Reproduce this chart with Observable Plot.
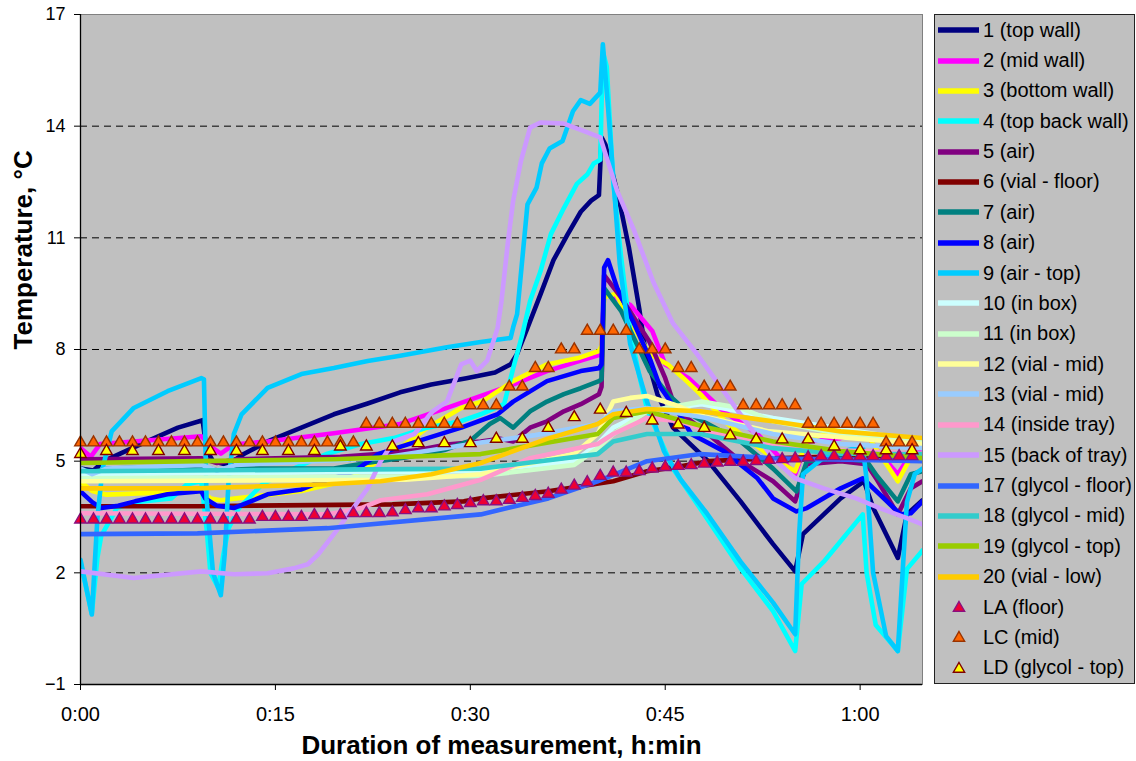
<!DOCTYPE html>
<html>
<head>
<meta charset="utf-8">
<script src="https://cdn.jsdelivr.net/npm/d3@7"></script>
<script src="https://cdn.jsdelivr.net/npm/@observablehq/plot@0.6"></script>
<style>
  body { margin: 0; background: #fff; font-family: "Liberation Sans", Arial, sans-serif; }
  #wrap { position: relative; width: 1136px; height: 761px; overflow: hidden; }
  #chart { position: absolute; left: 0; top: 0; }
  #legend { position: absolute; left: 934px; top: 14px; width: 199px; height: 668px;
            background: #c0c0c0; border: 1px solid #222; box-sizing: content-box; }
  .row { height: 30.36px; display: flex; align-items: center; font-size: 20px; color: #000; white-space: nowrap; }
  .sw { width: 41px; height: 16px; margin-left: 3px; margin-right: 4px; flex: none; }
</style>
</head>
<body>
<div id="wrap">
  <div id="chart"></div>
  <div id="legend"></div>
</div>
<script>
// ---------- data (minutes, °C) ----------
const xTicks = [0, 15, 30, 45, 60];
const yTicks = [-1, 2, 5, 8, 11, 14, 17];
const gridValues = [2, 5, 8, 11, 14];
const xTitle = "Duration of measurement, h:min";
const yTitle = "Temperature, °C";

const s1 = [[0,4.8],[1.0,4.75],[1.8,5.0],[4.9,5.5],[7.5,5.9],[9.4,6.1],[9.7,5.3],[10.2,5.0],[11.3,4.9],[12.6,5.2],[14.4,5.53],[17,5.9],[19.5,6.26],[22.1,6.55],[24.6,6.85],[27,7.06],[29.7,7.23],[31.9,7.38],[33.1,7.6],[33.6,7.88],[34.4,8.58],[35.4,9.48],[36.4,10.4],[37.5,11.1],[38.5,11.7],[39.3,12.0],[39.9,12.15],[40.1,13.7],[40.4,13.5],[41.4,12.1],[42.2,10.75],[43.0,9.1],[43.5,7.9],[44.4,6.8],[45.6,5.9],[48.3,5.0],[50.8,3.92],[53.3,2.77],[55.0,2.04],[55.6,3.04],[57.2,3.57],[58.5,4.0],[60.3,4.46],[61.0,3.75],[62.9,2.4],[63.6,3.57],[64.8,3.95]];
const s2 = [[0,5.35],[0.8,5.12],[1.5,5.46],[4.1,5.53],[9.3,5.67],[10.0,5.4],[10.8,5.2],[11.8,5.45],[14.4,5.53],[19.5,5.75],[24.6,6.0],[28.2,6.43],[33.3,7.06],[35.9,7.42],[38.5,7.7],[39.9,7.85],[40.1,8.1],[40.3,9.5],[41,9.4],[42.3,9.2],[44,8.5],[45,7.6],[45.5,7.5],[46.8,7.23],[49.5,6.34],[52.1,5.73],[54.1,5.0],[55.0,4.65],[55.9,5.53],[58.5,5.62],[60.5,5.73],[61.3,5.3],[62.9,4.65],[63.9,5.19],[64.8,5.27]];
const s3 = [[0,4.45],[0.9,4.2],[2,4.1],[9.3,4.2],[10,4.0],[10.8,3.95],[12,4.0],[17,4.2],[19.5,4.4],[21.6,4.73],[24.3,5.27],[26.7,5.9],[29.3,6.43],[30.9,6.6],[33.3,7.15],[35.9,7.6],[38.3,7.77],[39.9,7.96],[40.1,8.1],[40.3,9.4],[41.2,9.5],[42.6,8.58],[43.8,7.88],[45.2,7.6],[46.4,7.23],[47.7,6.8],[49.8,6.0],[50.8,5.73],[53.3,5.08],[55.0,4.73],[55.9,5.53],[57.2,5.73],[60.5,5.73],[61.3,5.3],[62.9,4.46],[63.9,5.1],[64.8,5.2]];
const s4 = [[0,2.3],[0.87,0.9],[1.3,2.4],[1.6,3.0],[2.8,3.74],[4.2,3.9],[7,4.0],[8.2,4.38],[9.3,4.46],[9.7,3.2],[10.0,2.0],[10.6,1.6],[11.0,2.5],[11.4,3.2],[12.2,3.74],[14,4.38],[16.4,4.8],[19,5.2],[21.6,5.46],[24.1,5.62],[26.7,5.9],[29.3,6.08],[30.8,6.26],[32.6,6.53],[33.3,7.5],[34,8.4],[34.6,9.3],[35.4,10.1],[36.2,11.1],[37.2,11.8],[38.2,12.45],[39,12.7],[39.5,13.0],[40.0,13.1],[40.2,16.0],[40.5,15.6],[41,12.5],[41.6,10.5],[42.3,8.5],[43,7.3],[43.6,6.4],[45.6,4.8],[48.2,3.47],[50.8,2.12],[53.3,0.97],[55,-0.1],[55.5,1.7],[57.2,2.3],[58.5,2.85],[60.2,3.57],[60.5,2.0],[61.2,0.6],[62.9,-0.1],[63.6,2.1],[64.8,2.6]];
const s5 = [[0,5.05],[9.3,5.08],[10.5,4.95],[12,5.05],[20,5.12],[23.1,5.2],[26,5.3],[28.2,5.45],[30.8,5.53],[32.3,5.6],[33.3,5.53],[34.6,5.9],[35.9,6.07],[37.2,6.34],[38.5,6.53],[39.9,6.8],[40.1,7.0],[40.3,10.0],[41.6,9.4],[43.8,8.2],[45,7.23],[45.8,6.4],[48.3,5.73],[50.8,5.0],[53.3,4.46],[55,3.92],[55.9,4.92],[58.5,5.0],[60.5,4.92],[61.3,4.5],[62.9,3.57],[63.9,4.27],[64.8,4.46]];
const s6 = [[0,3.79],[9,3.79],[24,3.84],[29.5,3.92],[30.8,4.0],[36,4.19],[41,4.46],[43.6,4.73],[46.2,4.86],[48.3,5.0],[53.3,5.08],[58.5,5.13],[64.8,5.13]];
const s7 = [[0,4.8],[0.9,4.7],[2,4.8],[9.3,4.86],[10.8,4.73],[12,4.8],[19.5,4.8],[22,4.95],[25,5.1],[28,5.3],[30,5.55],[31.5,6.0],[32.3,6.16],[33.3,5.9],[34.6,6.34],[35.9,6.6],[37.2,6.8],[38.5,6.96],[39.9,7.15],[40.1,7.2],[40.3,9.65],[41.6,9.04],[42.6,8.3],[43.8,7.42],[45.2,6.8],[46.9,6.26],[50.8,5.53],[53.3,4.8],[55.1,4.19],[55.9,5.0],[58.5,5.08],[60.5,5.0],[61.3,4.6],[62.9,3.92],[63.9,4.65],[64.8,4.73]];
const s8 = [[0,4.19],[0.9,3.9],[1.6,3.74],[2.9,3.8],[4.2,3.92],[6.7,4.11],[9.3,4.19],[9.6,4.0],[10.5,3.8],[11.8,3.74],[13.1,3.92],[14.4,4.11],[17,4.24],[18,4.38],[21.1,4.73],[22.9,5.19],[24.3,5.35],[26.7,5.62],[29.3,5.9],[32.1,6.26],[33.3,6.6],[35.9,7.15],[38.5,7.42],[39.9,7.5],[40.1,7.6],[40.3,10.2],[40.6,10.4],[41.3,9.65],[42.6,8.7],[43.8,7.77],[44.6,7.0],[46.2,6.2],[47,5.73],[49.5,5.27],[52.1,4.54],[53.3,4.0],[55.1,3.65],[55.9,3.74],[58.5,4.27],[60.2,4.54],[61.5,4.11],[63.1,3.57],[63.9,3.6],[64.8,3.92]];
const s9 = [[0,2.35],[0.87,0.88],[1.3,3.47],[1.7,4.8],[2.4,5.8],[4.1,6.43],[6.7,6.88],[9.3,7.23],[9.5,7.2],[9.7,4.0],[10.2,2.0],[10.8,1.4],[11.1,2.5],[11.4,4.5],[11.8,5.73],[12.4,6.26],[14.4,6.97],[17,7.34],[19.5,7.5],[22.1,7.69],[24.6,7.83],[28.2,8.06],[30.8,8.2],[33.1,8.31],[33.3,8.6],[33.6,8.95],[34.4,11.9],[35.1,12.35],[35.5,13.0],[36.1,13.4],[37.1,13.6],[37.9,14.4],[38.5,14.7],[39.2,14.6],[40.0,14.9],[40.2,16.2],[40.6,14.5],[41.5,10.3],[42.3,8.15],[43.6,6.6],[44.9,5.27],[46.2,4.5],[48.2,3.6],[50.8,2.3],[53.3,1.2],[55,0.35],[55.3,3.0],[55.6,4.65],[57.2,5.1],[58.5,5.25],[60.2,5.4],[60.5,4.5],[61,2.0],[62,0.3],[62.9,-0.1],[63.6,3.9],[64.2,4.65],[64.8,4.8]];
const s10 = [[0,4.65],[30.8,4.73],[38,5.0],[39.8,5.46],[41,5.9],[43.6,6.34],[47.8,6.53],[53.3,6.16],[64.8,5.53]];
const s11 = [[0,4.54],[30.8,4.6],[38,4.9],[39.8,5.35],[41,5.73],[43.6,6.34],[47.8,6.6],[50.8,6.43],[53.3,6.07],[58.5,5.73],[64.8,5.53]];
const s12 = [[0,4.46],[25,4.5],[30.8,4.65],[38,5.2],[39.8,5.73],[41,6.6],[42.3,6.7],[43.6,6.75],[45.6,6.53],[48,6.2],[53,5.8],[64.8,5.46]];
const s13 = [[0,4.8],[0.9,4.65],[2,4.8],[9.3,4.9],[10.5,4.75],[12,4.9],[23,5.08],[30.8,5.5],[35,5.7],[39.8,6.0],[41,6.34],[43.6,6.43],[48.2,6.16],[53.3,5.73],[58.5,5.46],[64.8,5.35]];
const s14 = [[0,3.6],[19,3.57],[21.6,3.74],[23.1,3.95],[26.7,4.11],[30.8,4.5],[34.6,5.08],[39.8,5.46],[41,5.73],[43.6,6.16],[46.2,6.07],[48.3,5.8],[52,5.5],[58,5.3],[64.8,5.2]];
const s15 = [[0,2.04],[4.1,1.86],[9.3,2.04],[11.8,1.96],[14.4,1.99],[16.4,2.12],[17.5,2.23],[18.3,2.5],[19.5,3.04],[20.8,3.65],[22.1,4.27],[23.1,5.0],[24.1,5.53],[25.7,5.73],[27.1,6.34],[28.2,6.6],[29.3,7.6],[30,7.7],[30.5,7.42],[31.3,7.7],[32.1,8.58],[32.4,9.3],[32.9,10.9],[33.3,12.0],[33.9,13.07],[34.6,13.96],[35.4,14.1],[37.2,14.07],[38.5,13.9],[40,13.7],[41.3,12.26],[42.6,11.2],[44.1,9.8],[45.6,8.7],[47.4,7.9],[50.8,6.25],[53.3,5.08],[55,4.54],[57.2,4.27],[59.7,4.0],[61.5,3.74],[63.6,3.47],[64.8,3.3]];
const s17 = [[0,3.04],[9,3.06],[19,3.2],[30.8,3.57],[36,4.0],[39.8,4.46],[43.6,5.0],[47.7,5.19],[53.3,5.08],[64.8,5.0]];
const s18 = [[0,4.73],[30.8,4.8],[39.8,5.19],[41,5.53],[43.6,5.73],[47.7,5.73],[53.3,5.35],[58.5,5.2],[64.8,5.19]];
const s19 = [[0,4.95],[9,5.0],[19.5,5.05],[30.8,5.19],[39.8,5.73],[41,6.16],[43.6,6.34],[48.3,5.9],[53.3,5.53],[58.5,5.27],[64.8,5.08]];
const s20 = [[0,4.27],[9,4.27],[19,4.38],[23.1,4.46],[27,4.65],[30.8,4.95],[35.9,5.6],[39.8,6.0],[41,6.26],[43.6,6.4],[47.7,6.34],[53.3,6.07],[58.5,5.8],[64.8,5.62]];

// logger readings: LA and LC every minute from 0:00, LD every 2 minutes
const laTemps = [3.43,3.43,3.43,3.43,3.43,3.43,3.43,3.43,3.43,3.43,3.43,3.43,3.43,3.43,3.5,3.5,3.5,3.5,3.55,3.55,3.55,3.6,3.6,3.6,3.62,3.68,3.73,3.73,3.78,3.82,3.87,3.92,3.92,3.96,4.01,4.06,4.12,4.23,4.34,4.43,4.6,4.69,4.69,4.73,4.8,4.84,4.87,4.89,4.93,4.96,4.98,4.98,5.0,5.03,5.05,5.07,5.1,5.13,5.13,5.13,5.13,5.13,5.13,5.13,5.13];
const lcTemps = [5.5,5.5,5.5,5.5,5.5,5.5,5.5,5.5,5.5,5.5,5.5,5.5,5.5,5.5,5.5,5.5,5.5,5.5,5.5,5.5,5.5,5.5,6,6,6,6,6,6,6,6,6.5,6.5,6.5,7,7,7.5,7.5,8,8,8.5,8.5,8.5,8.5,8,8,8,7.5,7.5,7,7,7,6.5,6.5,6.5,6.5,6.5,6,6,6,6,6,6,5.5,5.5,5.5];
const ldTemps = [5.19,5.27,5.27,5.27,5.27,5.27,5.27,5.27,5.27,5.27,5.39,5.39,5.39,5.48,5.48,5.48,5.6,5.6,5.89,6.18,6.38,6.29,6.09,5.98,5.89,5.69,5.58,5.58,5.58,5.39,5.29,5.29,5.29];

const lineSeries = [
  {label:"1 (top wall)", color:"#000080", pts:s1},
  {label:"2 (mid wall)", color:"#ff00ff", pts:s2},
  {label:"3 (bottom wall)", color:"#ffff00", pts:s3},
  {label:"4 (top back wall)", color:"#00ffff", pts:s4},
  {label:"5 (air)", color:"#800080", pts:s5},
  {label:"6 (vial - floor)", color:"#800000", pts:s6},
  {label:"7 (air)", color:"#008080", pts:s7},
  {label:"8 (air)", color:"#0000ff", pts:s8},
  {label:"9 (air  - top)", color:"#00ccff", pts:s9},
  {label:"10 (in box)", color:"#ccffff", pts:s10},
  {label:"11 (in box)", color:"#ccffcc", pts:s11},
  {label:"12 (vial - mid)", color:"#ffff99", pts:s12},
  {label:"13 (vial - mid)", color:"#99ccff", pts:s13},
  {label:"14 (inside tray)", color:"#ff99cc", pts:s14},
  {label:"15 (back of tray)", color:"#cc99ff", pts:s15},
  {label:"17 (glycol - floor)", color:"#3366ff", pts:s17},
  {label:"18 (glycol - mid)", color:"#33cccc", pts:s18},
  {label:"19 (glycol - top)", color:"#99cc00", pts:s19},
  {label:"20 (vial - low)", color:"#ffcc00", pts:s20}
];
const markerSeries = [
  {label:"LA (floor)", fill:"#ee0033", stroke:"#8a1080", pts: laTemps.map((v,i)=>({t:i, v}))},
  {label:"LC (mid)", fill:"#ff6600", stroke:"#993300", pts: lcTemps.map((v,i)=>({t:i, v}))},
  {label:"LD (glycol - top)", fill:"#ffff00", stroke:"#800000", pts: ldTemps.map((v,i)=>({t:i*2, v}))}
];

const fmt = m => `${Math.floor(m/60)}:${String(m%60).padStart(2,"0")}`;

const chart = Plot.plot({
  width: 930, height: 761,
  marginLeft: 80, marginRight: 8, marginTop: 14, marginBottom: 77,
  style: {fontFamily: "'Liberation Sans', Arial, sans-serif", background: "transparent", overflow: "visible", fontSize: "18px"},
  x: {domain: [0, 64.8]},
  y: {domain: [-1, 17]},
  marks: [
    Plot.frame({fill: "#c0c0c0", stroke: "#808080"}),
    Plot.ruleY(gridValues, {stroke: "#000", strokeDasharray: "7,5", strokeWidth: 1}),
    ...lineSeries.map(s => Plot.line(s.pts, {x: d => d[0], y: d => d[1], stroke: s.color, strokeWidth: 4.6, clip: true})),
    ...markerSeries.map(s => Plot.dot(s.pts, {x: "t", y: "v", symbol: "triangle", r: 4.3, fill: s.fill, stroke: s.stroke, strokeWidth: 1.4})),
    Plot.ruleX([0], {stroke: "#000", strokeWidth: 1.3}),
    Plot.ruleY([-1], {stroke: "#000", strokeWidth: 1.3}),
    Plot.axisX({ticks: xTicks, tickFormat: fmt, tickSize: 6, tickPadding: 16, fontSize: 20, label: null}),
    Plot.axisY({ticks: yTicks, tickSize: 6, tickPadding: 9, fontSize: 18, label: null}),
    Plot.text([xTitle], {frameAnchor: "bottom", dy: 61, text: d => d, fontSize: 26, fontWeight: "bold", lineAnchor: "middle"}),
    Plot.text([yTitle], {frameAnchor: "left", dx: -57, rotate: -90, text: d => d, fontSize: 26, fontWeight: "bold", lineAnchor: "middle"})
  ]
});
document.getElementById("chart").appendChild(chart);

// legend
const legend = d3.select("#legend");
lineSeries.forEach(s => {
  const row = legend.append("div").attr("class", "row");
  const svg = row.append("svg").attr("class", "sw").attr("viewBox", "0 0 41 16");
  svg.append("line").attr("x1", 0).attr("x2", 41).attr("y1", 8).attr("y2", 8)
     .attr("stroke", s.color).attr("stroke-width", 5.5);
  row.append("span").text(s.label);
});
markerSeries.forEach(s => {
  const row = legend.append("div").attr("class", "row");
  const svg = row.append("svg").attr("class", "sw").attr("viewBox", "0 0 41 16");
  svg.append("path").attr("d", d3.symbol(d3.symbolTriangle, 55)()).attr("transform", "translate(21,9)")
     .attr("fill", s.fill).attr("stroke", s.stroke).attr("stroke-width", 1.4);
  row.append("span").text(s.label);
});
</script>
</body>
</html>
